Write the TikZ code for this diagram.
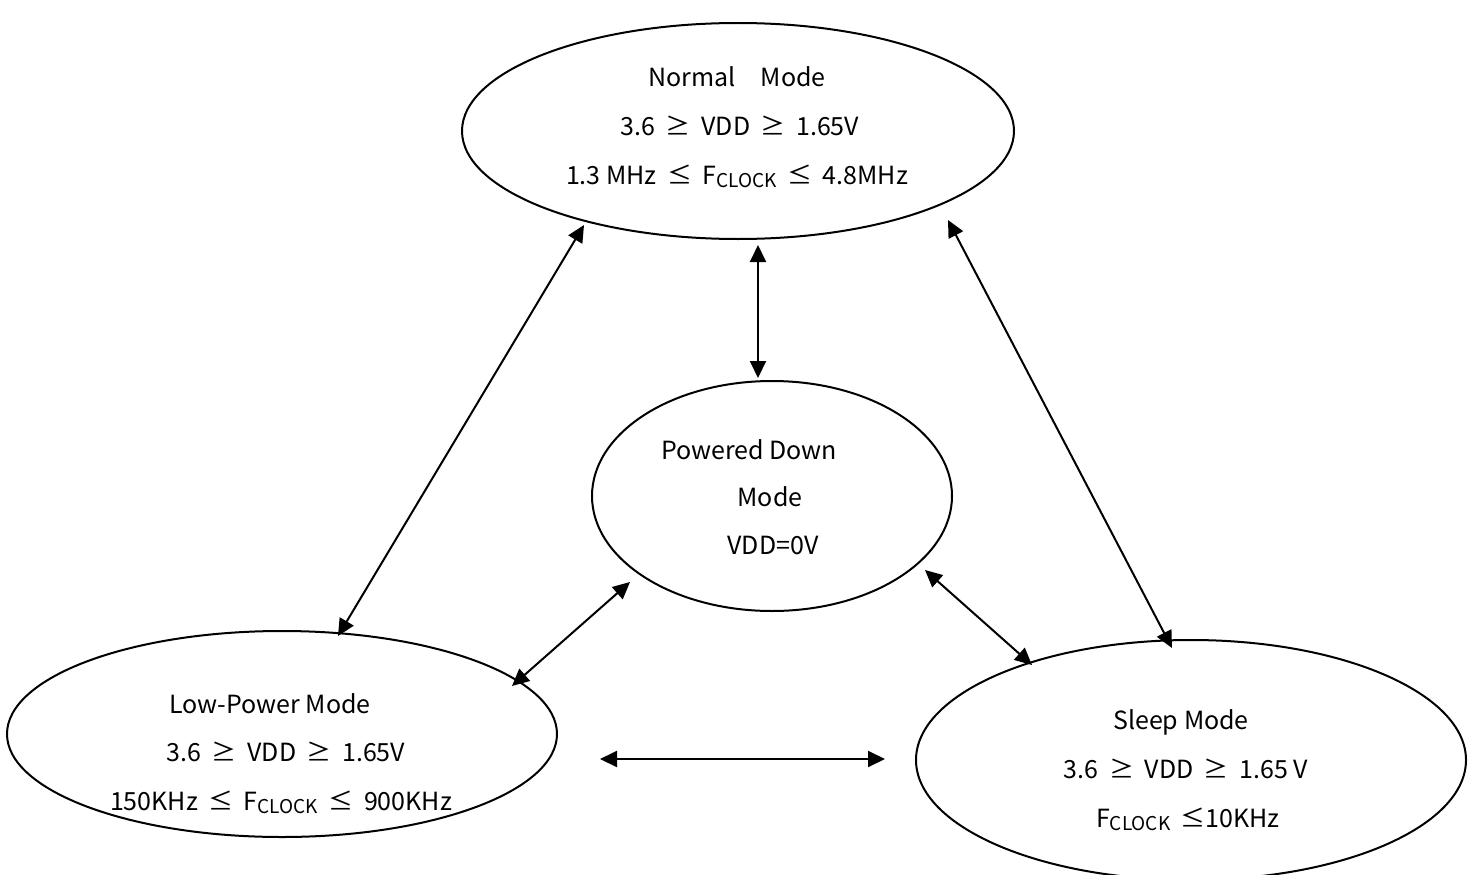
\documentclass[tikz,border=0pt]{standalone}
\usepackage{fontspec}
\setmainfont{Noto Sans CJK JP}
\usetikzlibrary{arrows.meta,shapes.geometric}
\newcommand{\clk}{F\raisebox{-0.25ex}{\fontsize{19}{19}\selectfont CLOCK}}
\newcommand{\mygeq}{\hspace{0.42em}≥\hspace{0.42em}}
\newcommand{\myleq}{\hspace{0.42em}≤\hspace{0.42em}}
\begin{document}
\begin{tikzpicture}[x=1pt,y=-1pt,
  st/.style={draw,line width=2pt,ellipse,inner sep=0pt},
  txt/.style={font=\fontsize{25}{28}\selectfont,inner sep=0pt,anchor=base},
  conn/.style={line width=2pt,{Triangle[length=17pt,width=16pt]}-{Triangle[length=17pt,width=16pt]}}]
\useasboundingbox (0,0) rectangle (1473,875);
\fill[white] (0,0) rectangle (1473,875);
\node[st,minimum width=552pt,minimum height=216pt] (normal) at (738,131) {};
\node[st,minimum width=360pt,minimum height=230pt] (pd) at (772,496) {};
\node[st,minimum width=550pt,minimum height=206pt] (low) at (282,734) {};
\node[st,minimum width=550pt,minimum height=240pt] (sleep) at (1191,760) {};
% texts
\node[txt] (n1) at (737,86) {Normal\quad Mode};
\node[txt] (n2) at (740,135) {3.6\mygeq VDD\mygeq 1.65V};
\node[txt] (n3) at (737,184) {1.3 MHz\myleq \clk{}\myleq 4.8MHz};
\node[txt] (p1) at (749,459) {Powered Down};
\node[txt] (p2) at (770,506) {Mode};
\node[txt] (p3) at (773,554) {VDD=0V};
\node[txt] (l1) at (270,713) {Low-Power Mode};
\node[txt] (l2) at (286,761) {3.6\mygeq VDD\mygeq 1.65V};
\node[txt] (l3) at (281,810) {150KHz\myleq \clk{}\myleq 900KHz};
\node[txt] (s1) at (1181,729) {Sleep Mode};
\node[txt] (s2) at (1186,778) {3.6\mygeq VDD\mygeq 1.65 V};
\node[txt] (s3) at (1188,827) {\clk{}\hspace{0.42em}≤10KHz};
% arrow ends
\coordinate (a1) at (584,225); \coordinate (a2) at (338,636);
\coordinate (b1) at (758,245); \coordinate (b2) at (758,378);
\coordinate (c1) at (948,220); \coordinate (c2) at (1172,648);
\coordinate (d1) at (630,582); \coordinate (d2) at (512,686);
\coordinate (e1) at (925,570); \coordinate (e2) at (1032,665);
\coordinate (f1) at (600,759); \coordinate (f2) at (885,759);
\draw[conn] (a1) -- (a2);
\draw[conn] (b1) -- (b2);
\draw[conn] (c1) -- (c2);
\draw[conn] (d1) -- (d2);
\draw[conn] (e1) -- (e2);
\draw[conn] (f1) -- (f2);
\end{tikzpicture}
\end{document}
